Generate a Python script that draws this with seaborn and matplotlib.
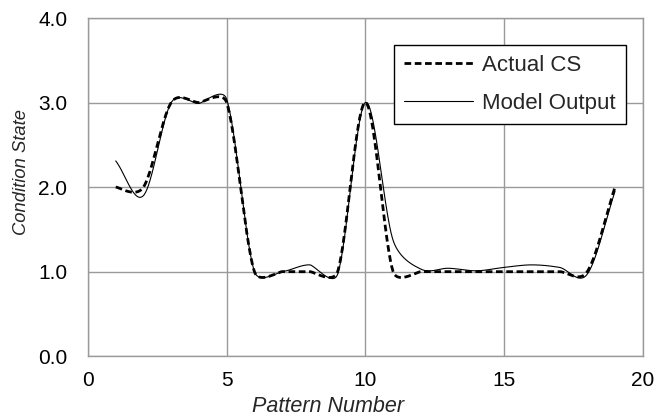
import numpy as np
import matplotlib
matplotlib.use('Agg')
import matplotlib.pyplot as plt
import seaborn as sns

# pattern numbers and the two series
patterns = list(range(1, 20))
actual_cs = [2, 2, 3, 3, 3, 1, 1, 1, 1, 3, 1, 1, 1, 1, 1, 1, 1, 1, 2]
model_output = [2.31, 1.90, 3.00, 2.99, 3.04, 1.00, 1.00, 1.08, 0.97, 3.00,
                1.37, 1.03, 1.04, 1.01, 1.05, 1.08, 1.05, 0.97, 1.95]

X_RANGE = (0, 20)
Y_RANGE = (0, 4)
AX_RECT = [0.1325, 0.152, 0.8355, 0.805]
FIG_PX = (664, 420)


def excel_smooth(x, y, n=40):
    # Excel-like "smoothed line": bezier segments, control points limited
    # by segment lengths measured on screen
    sx = FIG_PX[0] * AX_RECT[2] / (X_RANGE[1] - X_RANGE[0])
    sy = FIG_PX[1] * AX_RECT[3] / (Y_RANGE[1] - Y_RANGE[0])
    P = np.column_stack([np.asarray(x, float) * sx, np.asarray(y, float) * sy])
    pts = np.vstack([P[:1], P, P[-1:]])
    t = np.linspace(0, 1, n, endpoint=False)[:, None]
    out = []
    for i in range(len(P) - 1):
        p0, p1, p2, p3 = pts[i], pts[i + 1], pts[i + 2], pts[i + 3]
        d12 = np.linalg.norm(p2 - p1)
        d02 = np.linalg.norm(p2 - p0)
        d13 = np.linalg.norm(p3 - p1)
        c1 = d02 / 6 < d12 / 2
        c2 = d13 / 6 < d12 / 2
        if c1 and c2:
            f1 = 1 / 3 if np.allclose(p0, p1) else 1 / 6
            f2 = 1 / 3 if np.allclose(p2, p3) else 1 / 6
            b1 = p1 + (p2 - p0) * f1
            b2 = p2 - (p3 - p1) * f2
        elif not c1 and not c2:
            b1 = p1 + (p2 - p0) * d12 / 2 / d02
            b2 = p2 - (p3 - p1) * d12 / 2 / d13
        elif not c1:
            b1 = p1 + (p2 - p0) * d12 / 2 / d02
            b2 = p2 - (p3 - p1) * d12 / 2 / d02
        else:
            b1 = p1 + (p2 - p0) * d12 / 2 / d13
            b2 = p2 - (p3 - p1) * d12 / 2 / d13
        seg = ((1 - t) ** 3 * p1 + 3 * (1 - t) ** 2 * t * b1
               + 3 * (1 - t) * t ** 2 * b2 + t ** 3 * p2)
        out.append(seg)
    out.append(P[-1:])
    out = np.vstack(out)
    return out[:, 0] / sx, out[:, 1] / sy


sns.set_theme(style='white')
plt.rcParams['font.family'] = ['Liberation Sans', 'DejaVu Sans']

fig = plt.figure(figsize=(FIG_PX[0] / 100, FIG_PX[1] / 100), dpi=100)
ax = fig.add_axes(AX_RECT)

xa, ya = excel_smooth(patterns, actual_cs)
xm, ym = excel_smooth(patterns, model_output)
sns.lineplot(x=xa, y=ya, ax=ax, color='black', linewidth=2.0,
             label='Actual CS', sort=False)
sns.lineplot(x=xm, y=ym, ax=ax, color='black', linewidth=0.8,
             label='Model Output', sort=False)
ax.lines[0].set_dashes((2.4, 1.3))

ax.set_xlim(*X_RANGE)
ax.set_ylim(*Y_RANGE)
ax.set_xticks([0, 5, 10, 15, 20])
ax.set_yticks([0, 1, 2, 3, 4])
ax.set_yticklabels([f'{v:.1f}' for v in [0, 1, 2, 3, 4]])
ax.tick_params(length=0, labelsize=15, colors='black')
ax.tick_params(axis='y', pad=15)
ax.tick_params(axis='x', pad=11)
ax.grid(True, color='#9a9a9a', linewidth=1.0)
for s in ax.spines.values():
    s.set_color('#9a9a9a')
    s.set_linewidth(1.0)

ax.set_xlabel('Pattern Number', fontsize=15.5, style='italic')
ax.set_ylabel('Condition State', fontsize=13.2, style='italic')
ax.xaxis.set_label_coords(0.433, -0.117)
ax.yaxis.set_label_coords(-0.105, 0.544)

leg = ax.legend(loc='upper right', bbox_to_anchor=(0.969, 0.92),
                borderaxespad=0, fontsize=16, fancybox=False, framealpha=1,
                edgecolor='black', handlelength=3.1, handletextpad=0.4,
                labelspacing=0.75, borderpad=0.45)
leg.get_frame().set_linewidth(1.0)

fig.savefig('out.png', dpi=100)
